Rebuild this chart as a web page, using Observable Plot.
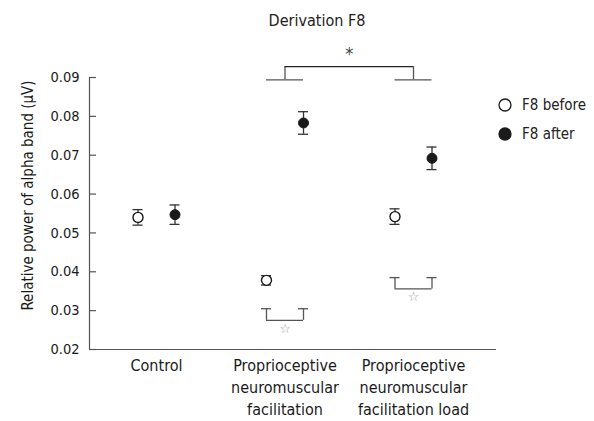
<!DOCTYPE html>
<html>
<head>
<meta charset="utf-8">
<script src="https://cdn.jsdelivr.net/npm/d3@7"></script>
<script src="https://cdn.jsdelivr.net/npm/@observablehq/plot@0.6"></script>
<style>
  body { margin: 0; background: #fff; }
  #wrap { position: relative; width: 594px; height: 421px; overflow: hidden; font-family: "Liberation Sans Narrow", "Arial Narrow", "DejaVu Sans Condensed", sans-serif; color: #222; }
  #title { position: absolute; left: 40px; width: 554px; top: 12px; text-align: center; font-size: 16px; line-height: 18px; }
  #legend { position: absolute; left: 497px; top: 90px; font-size: 15px; }
  #legend .item { display: flex; align-items: center; height: 29px; }
  #legend svg { margin-right: 9px; }
  #chart { position: absolute; left: 0; top: 0; }
</style>
</head>
<body>
<div id="wrap">
  <div id="chart"></div>
  <div id="title">Derivation F8</div>
  <div id="legend"></div>
</div>
<script>
// ---- data ----
const groups = ["Control", "Proprioceptive neuromuscular facilitation", "Proprioceptive neuromuscular facilitation load"];
const groupLabels = ["Control", "Proprioceptive\nneuromuscular\nfacilitation", "Proprioceptive\nneuromuscular\nfacilitation load"];
const series = ["F8 before", "F8 after"];
const beforeMean = [0.0540, 0.0378, 0.0542];
const beforeErr  = [0.0020, 0.0012, 0.0020];
const afterMean  = [0.0547, 0.0783, 0.0692];
const afterErr   = [0.0025, 0.0029, 0.0029];
const yTicks = [0.02, 0.03, 0.04, 0.05, 0.06, 0.07, 0.08, 0.09];
const yLabel = "Relative power of alpha band (μV)";
// within-group significance (before vs after), white star
const pairGroups = [1, 2];
const pairTop = [0.0305, 0.0385];
const pairBottom = [0.0275, 0.0356];
const pairStar = [0.0254, 0.0335];
// between-group significance, asterisk
const sigGroups = [1, 2];
const sigBase = 0.0894, sigTop = 0.0928, sigStar = 0.0959;

// ---- layout ----
const dodge = 0.144;   // half distance between before/after (x units)
const cap = 0.039;     // half width of error-bar caps (x units)
const xDomain = [-0.5214, 2.6459];
const font = '"Liberation Sans Narrow", "Arial Narrow", "DejaVu Sans Condensed", sans-serif';
const ink = "#1a1a1a", lineCol = "#333", grey = "#555";

const rows = [];
groups.forEach((g, i) => {
  rows.push({g: i, series: series[0], x: i - dodge, mean: beforeMean[i], err: beforeErr[i]});
  rows.push({g: i, series: series[1], x: i + dodge, mean: afterMean[i], err: afterErr[i]});
});
const pairs = pairGroups.map((g, k) => ({g, x1: g - dodge, x2: g + dodge, top: pairTop[k], bottom: pairBottom[k], star: pairStar[k]}));

const chart = Plot.plot({
  width: 594, height: 421,
  marginLeft: 89, marginRight: 98, marginTop: 77, marginBottom: 72,
  style: {fontFamily: font, fontSize: "16px", color: ink, background: "transparent"},
  x: {type: "linear", domain: xDomain},
  y: {domain: [0.02, 0.09]},
  marks: [
    // axes
    Plot.ruleX([xDomain[0]], {stroke: grey, strokeWidth: 1.2}),
    Plot.ruleY([0.02], {stroke: grey, strokeWidth: 1.2}),
    Plot.tickY(yTicks, {y: d => d, insetRight: 400, stroke: grey, strokeWidth: 1.2}),
    Plot.axisY({ticks: yTicks, tickSize: 0, tickPadding: 10, tickFormat: d3.format(".2f"), fontSize: 14.5, label: null}),
    Plot.axisX({ticks: [0, 1, 2], tickSize: 0, tickPadding: 6, tickFormat: i => groupLabels[i], fontSize: 16, lineHeight: 1.38, label: null}),
    Plot.text([yLabel], {frameAnchor: "left", text: d => d, rotate: -90, textAnchor: "middle", dx: -61, dy: -18, fontSize: 15, fill: ink}),
    // error bars
    Plot.ruleX(rows, {x: "x", y1: d => d.mean - d.err, y2: d => d.mean + d.err, stroke: lineCol, strokeWidth: 1.3}),
    Plot.ruleY(rows, {y: d => d.mean + d.err, x1: d => d.x - cap, x2: d => d.x + cap, stroke: lineCol, strokeWidth: 1.3}),
    Plot.ruleY(rows, {y: d => d.mean - d.err, x1: d => d.x - cap, x2: d => d.x + cap, stroke: lineCol, strokeWidth: 1.3}),
    // points
    Plot.dot(rows.filter(d => d.series === series[0]), {x: "x", y: "mean", r: 5, fill: "white", stroke: ink, strokeWidth: 1.4}),
    Plot.dot(rows.filter(d => d.series === series[1]), {x: "x", y: "mean", r: 5, fill: ink, stroke: ink, strokeWidth: 1}),
    // within-group brackets
    Plot.ruleX(pairs, {x: "x1", y1: "bottom", y2: "top", stroke: grey, strokeWidth: 1.3}),
    Plot.ruleX(pairs, {x: "x2", y1: "bottom", y2: "top", stroke: grey, strokeWidth: 1.3}),
    Plot.ruleY(pairs, {y: "bottom", x1: "x1", x2: "x2", stroke: grey, strokeWidth: 1.3}),
    Plot.ruleY(pairs, {y: "top", x1: d => d.x1 - cap, x2: d => d.x1 + cap, stroke: grey, strokeWidth: 1.3}),
    Plot.ruleY(pairs, {y: "top", x1: d => d.x2 - cap, x2: d => d.x2 + cap, stroke: grey, strokeWidth: 1.3}),
    Plot.text(pairs, {x: d => d.g, y: "star", text: () => "☆", fill: "#999", fontSize: 13, fontFamily: "DejaVu Sans"}),
    // between-group bracket
    Plot.ruleY(sigGroups, {y: sigBase, x1: d => d - dodge, x2: d => d + dodge, stroke: grey, strokeWidth: 1.3}),
    Plot.ruleX(sigGroups, {x: d => d, y1: sigBase, y2: sigTop, stroke: grey, strokeWidth: 1.3}),
    Plot.ruleY([sigTop], {y: d => d, x1: sigGroups[0], x2: sigGroups[1], stroke: "#222", strokeWidth: 1.3}),
    Plot.text(["*"], {x: d3.mean(sigGroups), y: sigStar, text: d => d, fill: "#444", fontSize: 18})
  ]
});
document.getElementById("chart").appendChild(chart);

// legend
const legend = document.getElementById("legend");
series.forEach((s, i) => {
  const item = document.createElement("div");
  item.className = "item";
  const filled = i === 1;
  item.innerHTML = `<svg width="16" height="16"><circle cx="8" cy="8" r="6" fill="${filled ? ink : "white"}" stroke="${ink}" stroke-width="1.3"/></svg><span>${s}</span>`;
  legend.appendChild(item);
});
</script>
</body>
</html>
